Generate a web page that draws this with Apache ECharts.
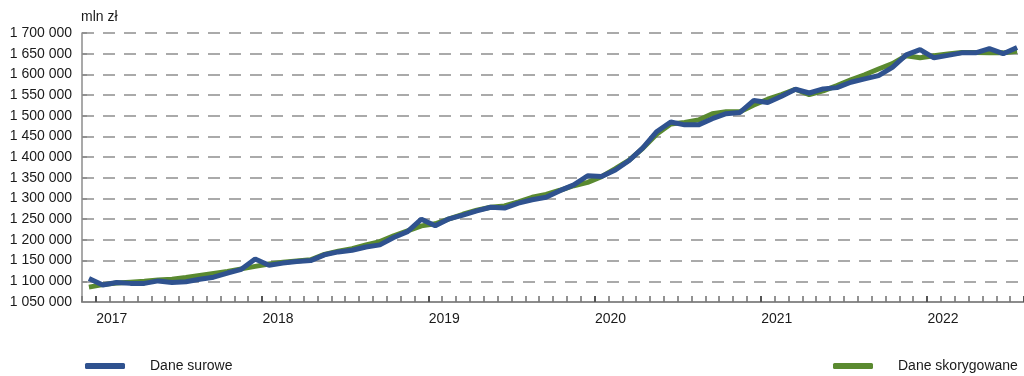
<!DOCTYPE html>
<html>
<head>
<meta charset="utf-8">
<script src="https://cdn.jsdelivr.net/npm/echarts@6/dist/echarts.min.js"></script>
<style>
  html, body { margin: 0; padding: 0; background: #fff; }
  #chart { width: 1024px; height: 376px; }
</style>
</head>
<body>
<div id="chart"></div>
<script>
// miesiace: 2016-12 .. 2022-07
var months = [
  '2016-12',
  '2017-01', '2017-02', '2017-03', '2017-04', '2017-05', '2017-06', '2017-07', '2017-08', '2017-09', '2017-10', '2017-11', '2017-12',
  '2018-01', '2018-02', '2018-03', '2018-04', '2018-05', '2018-06', '2018-07', '2018-08', '2018-09', '2018-10', '2018-11', '2018-12',
  '2019-01', '2019-02', '2019-03', '2019-04', '2019-05', '2019-06', '2019-07', '2019-08', '2019-09', '2019-10', '2019-11', '2019-12',
  '2020-01', '2020-02', '2020-03', '2020-04', '2020-05', '2020-06', '2020-07', '2020-08', '2020-09', '2020-10', '2020-11', '2020-12',
  '2021-01', '2021-02', '2021-03', '2021-04', '2021-05', '2021-06', '2021-07', '2021-08', '2021-09', '2021-10', '2021-11', '2021-12',
  '2022-01', '2022-02', '2022-03', '2022-04', '2022-05', '2022-06', '2022-07'
];

// Dane surowe (mln zl)
var raw = [
  1107000,
  1091000, 1097000, 1095000, 1095000, 1101000, 1097000, 1099000, 1105000, 1110000, 1120000, 1129000, 1154000,
  1139000, 1144000, 1148000, 1150000, 1164000, 1171000, 1175000, 1183000, 1188000, 1206000, 1220000, 1250000,
  1234000, 1251000, 1260000, 1270000, 1279000, 1277000, 1289000, 1297000, 1303000, 1319000, 1333000, 1355000,
  1353000, 1369000, 1392000, 1423000, 1462000, 1485000, 1478000, 1478000, 1493000, 1505000, 1508000, 1537000,
  1532000, 1547000, 1564000, 1555000, 1565000, 1568000, 1581000, 1589000, 1597000, 1617000, 1647000, 1660000,
  1640000, 1646000, 1652000, 1652000, 1662000, 1650000, 1665000
];

// Dane skorygowane (mln zl)
var adjusted = [
  1086000,
  1092000, 1096000, 1098000, 1100000, 1103000, 1105000, 1109000, 1114000, 1119000, 1124000, 1130000, 1136000,
  1142000, 1146000, 1149000, 1152000, 1165000, 1173000, 1179000, 1188000, 1196000, 1210000, 1222000, 1234000,
  1239000, 1251000, 1262000, 1272000, 1279000, 1282000, 1292000, 1303000, 1310000, 1320000, 1331000, 1339000,
  1353000, 1372000, 1393000, 1422000, 1456000, 1480000, 1484000, 1490000, 1505000, 1510000, 1510000, 1526000,
  1540000, 1551000, 1564000, 1551000, 1560000, 1573000, 1587000, 1599000, 1613000, 1626000, 1645000, 1640000,
  1645000, 1649000, 1653000, 1653000, 1652000, 1652000, 1656000
];

var blue = '#2f528f';
var green = '#5a8a30';
var font = 'Liberation Sans, Arial, sans-serif';

function isJan (idx) {
  return idx % 12 === 1;
}

var legendBase = {
  top: 359,
  padding: 0,
  icon: 'roundRect',
  itemWidth: 40,
  itemHeight: 6,
  textStyle: { fontFamily: font, fontSize: 14, color: '#1a1a1a', padding: [0, 0, 0, 20] }
};

var chart = echarts.init(document.getElementById('chart'));
chart.setOption({
  animation: false,
  title: {
    text: 'mln zł',
    left: 81,
    top: 10,
    padding: 0,
    textStyle: { fontFamily: font, fontSize: 14, fontWeight: 'normal', color: '#1a1a1a' }
  },
  legend: [
    Object.assign({}, legendBase, { data: ['Dane surowe'], left: 85 }),
    Object.assign({}, legendBase, { data: ['Dane skorygowane'], left: 833 })
  ],
  grid: {
    left: 82,
    top: 33,
    width: 943.5,
    height: 269
  },
  xAxis: [
    {
      type: 'category',
      data: months,
      boundaryGap: true,
      axisLine: { show: true, lineStyle: { color: '#8c8c8c', width: 2 } },
      axisTick: { show: false },
      axisLabel: {
        interval: function (idx) { return isJan(idx); },
        formatter: function (v) { return v.slice(0, 4); },
        fontFamily: font,
        fontSize: 14,
        color: '#1a1a1a',
        margin: 10,
        padding: [0, 0, 0, 18]
      },
      splitLine: { show: false }
    },
    {
      // kreski miesieczne
      type: 'category',
      data: months,
      position: 'bottom',
      boundaryGap: true,
      axisLine: { show: false },
      axisTick: { show: true, interval: 0, inside: true, length: 6, lineStyle: { color: '#777', width: 1.6 } },
      axisLabel: { show: false },
      splitLine: { show: false }
    },
    {
      // kreski roczne
      type: 'category',
      data: months,
      position: 'bottom',
      boundaryGap: true,
      axisLine: { show: false },
      axisTick: {
        show: true,
        interval: function (idx) { return isJan(idx); },
        inside: true,
        length: 6,
        lineStyle: { color: '#555', width: 2 }
      },
      axisLabel: { show: false },
      splitLine: { show: false }
    }
  ],
  yAxis: {
    type: 'value',
    min: 1050000,
    max: 1700000,
    interval: 50000,
    axisLine: { show: true, lineStyle: { color: '#8c8c8c', width: 1.5 } },
    axisTick: { show: true, inside: true, length: 5, lineStyle: { color: '#8c8c8c', width: 1.5 } },
    axisLabel: {
      fontFamily: font,
      fontSize: 14,
      color: '#1a1a1a',
      margin: 10,
      formatter: function (v) { return String(v).replace(/\B(?=(\d{3})+(?!\d))/g, ' '); }
    },
    splitLine: {
      show: true,
      lineStyle: { color: '#8f8f8f', width: 1.6, type: [12, 9], dashOffset: 0 }
    }
  },
  series: [
    {
      name: 'Dane skorygowane',
      type: 'line',
      data: adjusted,
      showSymbol: false,
      symbol: 'none',
      z: 2,
      color: green,
      lineStyle: { color: green, width: 5 }
    },
    {
      name: 'Dane surowe',
      type: 'line',
      data: raw,
      showSymbol: false,
      symbol: 'none',
      z: 3,
      color: blue,
      lineStyle: { color: blue, width: 5 }
    }
  ]
});
</script>
</body>
</html>
